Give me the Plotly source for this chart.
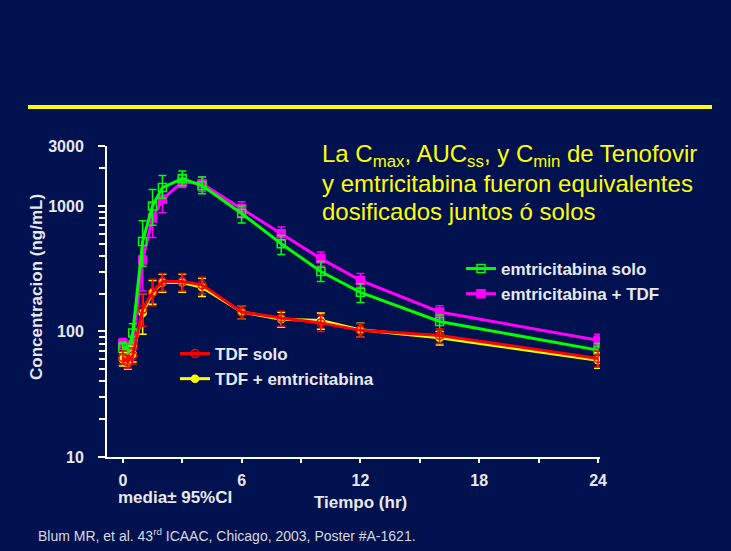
import plotly.graph_objects as go

# ---------------- data ----------------
time_h = [0, 0.25, 0.5, 1, 1.5, 2, 3, 4, 6, 8, 10, 12, 16, 24]

emtri_solo = [74, 68, 97, 520, 1000, 1400, 1650, 1450, 870, 500, 300, 205, 120, 71]
emtri_solo_hi = [82, 76, 115, 760, 1350, 1750, 1900, 1700, 1000, 580, 360, 240, 135, 80]
emtri_solo_lo = [65, 60, 80, 330, 700, 1150, 1450, 1250, 730, 410, 250, 170, 100, 62]

emtri_tdf = [80, 72, 78, 370, 800, 1130, 1550, 1500, 950, 600, 380, 255, 143, 85]
emtri_tdf_hi = [88, 82, 92, 560, 1050, 1300, 1750, 1700, 1080, 680, 430, 290, 160, 95]
emtri_tdf_lo = [72, 62, 66, 210, 560, 880, 1400, 1300, 820, 530, 330, 225, 125, 75]

tdf_solo = [62, 57, 64, 150, 205, 250, 250, 235, 143, 128, 117, 102, 93, 61]
tdf_solo_hi = [70, 64, 74, 200, 260, 290, 290, 270, 160, 145, 135, 115, 105, 70]
tdf_solo_lo = [55, 51, 55, 110, 160, 210, 210, 200, 125, 110, 100, 90, 80, 52]

tdf_emtri = [60, 56, 66, 140, 205, 245, 245, 225, 143, 125, 122, 103, 89, 59]
tdf_emtri_hi = [68, 63, 76, 200, 255, 285, 285, 265, 160, 142, 140, 116, 100, 68]
tdf_emtri_lo = [53, 50, 57, 95, 165, 205, 205, 190, 125, 108, 104, 90, 78, 51]

y_tickvals = [10, 100, 1000, 3000]
y_ticktext = ["10", "100", "1000", "3000"]
y_minor = [20, 30, 40, 50, 60, 70, 80, 90, 200, 300, 400, 500, 600, 700, 800, 900, 2000]
x_tickvals = [0, 6, 12, 18, 24]
x_minor = [3, 9, 15, 21]

title_lines = [
    "La C<sub>max</sub>, AUC<sub>ss</sub>, y C<sub>min</sub> de Tenofovir",
    "y emtricitabina fueron equivalentes",
    "dosificados juntos ó solos",
]

# ---------------- layout geometry ----------------
W, H = 731, 551
L, R, T, B = 107, 131, 146, 94
PW, PH = W - L - R, H - T - B


def px(x):
    return (x - L) / PW


def py(y):
    return 1 - (y - T) / PH


BG = "#001150"
TXT = "#E8E8F0"
FAM = "Liberation Sans, Arial, sans-serif"

fig = go.Figure()


def add(name, y, hi, lo, color, symbol, legend, rank, msize):
    fig.add_trace(go.Scatter(
        x=time_h, y=y, name=name, mode="lines+markers",
        line=dict(color=color, width=3),
        marker=dict(symbol=symbol, size=msize, color=color,
                    line=dict(color=color, width=1.5)),
        error_y=dict(type="data", symmetric=False,
                     array=[h - v for h, v in zip(hi, y)],
                     arrayminus=[v - l for v, l in zip(y, lo)],
                     color=color, thickness=1.5, width=4),
        legend=legend, legendrank=rank, legendgroup=name,
    ))


add("emtricitabina + TDF", emtri_tdf, emtri_tdf_hi, emtri_tdf_lo, "#FF00FF", "square", "legend", 2, 8)
add("emtricitabina solo", emtri_solo, emtri_solo_hi, emtri_solo_lo, "#00FF00", "square-open", "legend", 1, 8)
add("TDF + emtricitabina", tdf_emtri, tdf_emtri_hi, tdf_emtri_lo, "#FFFF00", "circle", "legend2", 2, 7)
add("TDF solo", tdf_solo, tdf_solo_hi, tdf_solo_lo, "#FF0000", "circle-open", "legend2", 1, 8)

legfont = dict(family=FAM, size=17, color=TXT, weight="bold")

annotations = []
for i, line in enumerate(title_lines):
    annotations.append(dict(
        text=line, xref="paper", yref="paper", x=px(320), y=py(155 + 28 * i),
        xanchor="left", yanchor="middle", align="left", showarrow=False,
        font=dict(family=FAM, size=24, color="#FFFF00")))

annotations += [
    dict(text="Concentracion (ng/mL)", textangle=-90,
         xref="paper", yref="paper", x=px(36), y=py(287),
         xanchor="center", yanchor="middle", showarrow=False,
         font=dict(family=FAM, size=17, color=TXT, weight="bold")),
    dict(text="media± 95%CI", xref="paper", yref="paper",
         x=px(116), y=py(497), xanchor="left", yanchor="middle",
         showarrow=False, font=dict(family=FAM, size=17, color=TXT, weight="bold")),
    dict(text="Tiempo (hr)", xref="paper", yref="paper",
         x=px(360), y=py(502), xanchor="center", yanchor="middle",
         showarrow=False, font=dict(family=FAM, size=17, color=TXT, weight="bold")),
    dict(text="Blum MR, et al. 43<sup>rd</sup> ICAAC, Chicago, 2003, Poster #A-1621.",
         xref="paper", yref="paper", x=px(36), y=py(535),
         xanchor="left", yanchor="middle", showarrow=False,
         font=dict(family=FAM, size=14, color="#D8D8E0")),
]

fig.update_layout(
    width=W, height=H,
    margin=dict(l=L, r=R, t=T, b=B, pad=0),
    paper_bgcolor=BG, plot_bgcolor=BG,
    font=dict(family=FAM, color=TXT),
    legend=dict(x=px(461), y=py(251), xanchor="left", yanchor="top",
                bgcolor="rgba(0,0,0,0)", font=legfont, tracegroupgap=0,
                itemwidth=30),
    legend2=dict(x=px(175), y=py(336), xanchor="left", yanchor="top",
                 bgcolor="rgba(0,0,0,0)", font=legfont, tracegroupgap=0,
                 itemwidth=30),
    xaxis=dict(range=[-0.8, 24.1], showgrid=False, zeroline=False,
               showline=True, linecolor="white", linewidth=2,
               ticks="outside", ticklen=4, tickwidth=2, tickcolor="white",
               tickvals=x_tickvals, ticktext=[str(v) for v in x_tickvals],
               tickfont=dict(family=FAM, size=16, color=TXT, weight="bold"),
               ticklabelstandoff=4,
               minor=dict(tickvals=x_minor, ticks="outside", ticklen=4,
                          tickwidth=2, tickcolor="white")),
    yaxis=dict(type="log", range=[1, 3.4771], showgrid=False, zeroline=False,
               showline=True, linecolor="white", linewidth=2,
               ticks="outside", ticklen=7, tickwidth=2, tickcolor="white",
               tickvals=y_tickvals, ticktext=y_ticktext,
               tickfont=dict(family=FAM, size=16, color=TXT, weight="bold"),
               ticklabelstandoff=11,
               minor=dict(tickvals=y_minor, ticks="outside", ticklen=6,
                          tickwidth=1.5, tickcolor="white")),
    shapes=[dict(type="line", xref="paper", yref="paper",
                 x0=px(28), x1=px(712), y0=py(107), y1=py(107),
                 line=dict(color="#FFFF00", width=4))],
    annotations=annotations,
)

fig.write_html(
    "out.html",
    config={"displayModeBar": False},
    post_script="document.body.style.margin='0';document.body.style.background='" + BG + "';",
)
